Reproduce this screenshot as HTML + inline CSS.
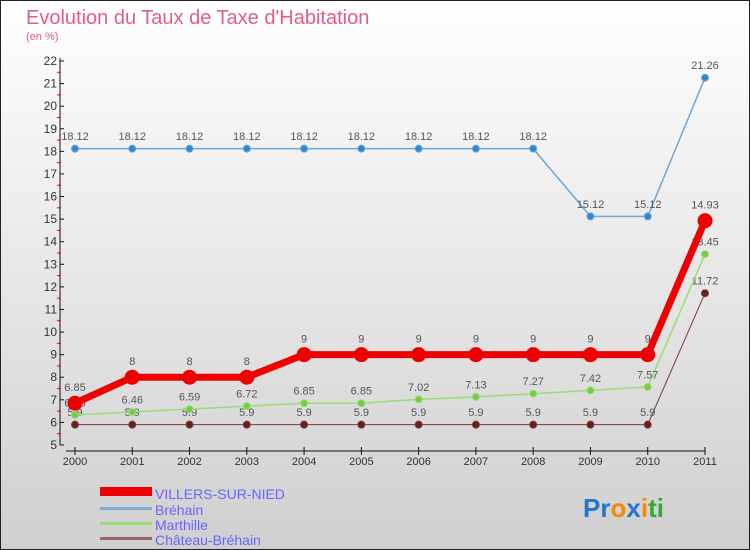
<!DOCTYPE html>
<html><head><meta charset="utf-8"><style>
body{margin:0;width:750px;height:550px;overflow:hidden;font-family:"Liberation Sans",sans-serif}
svg{display:block}
</style></head><body>
<svg id="c" width="750" height="550" xmlns="http://www.w3.org/2000/svg">
<defs><linearGradient id="bg" x1="0" y1="0" x2="0" y2="1"><stop offset="0" stop-color="#ffffff"/><stop offset="1" stop-color="#cfcfcf"/></linearGradient></defs>
<rect x="0.5" y="0.5" width="749" height="549" fill="url(#bg)" stroke="#222"/>
<text x="26" y="24" font-size="20" fill="#e06080">Evolution du Taux de Taxe d'Habitation</text>
<text x="26" y="40" font-size="11" fill="#e06080">(en %)</text>
<g id="axes"></g><g id="series"></g>
<g>
<rect x="100" y="487" width="52" height="9" fill="#ee0000"/>
<text x="155" y="499" font-size="14" fill="#6666ff">VILLERS-SUR-NIED</text>
<rect x="100" y="507" width="52" height="3" fill="#7aaed6"/>
<text x="155" y="515" font-size="14" fill="#6666ff">Bréhain</text>
<rect x="100" y="522" width="52" height="3" fill="#99dd77"/>
<text x="155" y="530" font-size="14" fill="#6666ff">Marthille</text>
<rect x="100" y="537" width="52" height="3" fill="#996666"/>
<text x="155" y="545" font-size="14" fill="#6666ff">Château-Bréhain</text>
</g>
<text x="583" y="517" font-size="26" font-weight="bold"><tspan fill="#2277cc">Pr</tspan><tspan fill="#ff8800">o</tspan><tspan fill="#2277cc">x</tspan><tspan fill="#ff8800">i</tspan><tspan fill="#33aa33">ti</tspan></text>
</svg>
<script>
const years=[2000,2001,2002,2003,2004,2005,2006,2007,2008,2009,2010,2011];
const villers=[6.85,8,8,8,9,9,9,9,9,9,9,14.93];
const brehain=[18.12,18.12,18.12,18.12,18.12,18.12,18.12,18.12,18.12,15.12,15.12,21.26];
const marthille=[6.33,6.46,6.59,6.72,6.85,6.85,7.02,7.13,7.27,7.42,7.57,13.45];
const chateau=[5.9,5.9,5.9,5.9,5.9,5.9,5.9,5.9,5.9,5.9,5.9,11.72];
const yTicks=[5,6,7,8,9,10,11,12,13,14,15,16,17,18,19,20,21,22];
const NS="http://www.w3.org/2000/svg";
const x=i=>75+i*(630/11);
const y=v=>445-(v-5)*(384/17);
function mk(t,a,p){const e=document.createElementNS(NS,t);for(const k in a)e.setAttribute(k,a[k]);p.appendChild(e);return e;}
const ax=document.getElementById('axes');
let l=mk('line',{x1:60,y1:y(22)-3,x2:60,y2:y(5),stroke:'#111'},ax);


yTicks.forEach(v=>{
 mk('line',{x1:60,y1:y(v),x2:64,y2:y(v),stroke:'#111'},ax);
 if(v<22)mk('line',{x1:57,y1:y(v+0.5),x2:61,y2:y(v+0.5),stroke:'#e00'},ax);
 const t=mk('text',{x:57,y:y(v)+4,'font-size':12,fill:'#333','text-anchor':'end'},ax);t.textContent=v;
 
 
});
l=mk('line',{x1:66,y1:451,x2:705,y2:451,stroke:'#111'},ax);


years.forEach((yr,i)=>{
 mk('line',{x1:x(i),y1:447,x2:x(i),y2:455,stroke:'#111'},ax);
 const t=mk('text',{x:x(i),y:465,'font-size':11,fill:'#333','text-anchor':'middle'},ax);t.textContent=yr;
 
 
});
const sg=document.getElementById('series');
function series(name,vals,col,w,r,dot,fmt){
 const g=mk('g',{},sg);
 
 
 const pl=mk('polyline',{points:vals.map((v,i)=>x(i)+','+y(v)).join(' '),fill:'none',stroke:col,'stroke-width':w,'stroke-linejoin':'round'},g);
 
 
 vals.forEach((v,i)=>{
  const c=mk('circle',{cx:x(i),cy:y(v),r:r,fill:dot,stroke:col,'stroke-width':1},g);
  
  
  const t=mk('text',{x:x(i),y:y(v)-(r+5),'font-size':11,fill:'#555','text-anchor':'middle'},g);t.textContent=fmt(v);
  
  
 });
}
const f=v=>String(v);
series('chateau',chateau,'#7a3a3a',1,3.5,'#6a1e1e',f);
series('marthille',marthille,'#99dd77',1.5,3.5,'#77cc44',f);
series('brehain',brehain,'#6ea6d6',1.5,3.5,'#3388cc',f);
series('villers',villers,'#ee0000',7,7,'#ee0000',f);
</script>
</body></html>
